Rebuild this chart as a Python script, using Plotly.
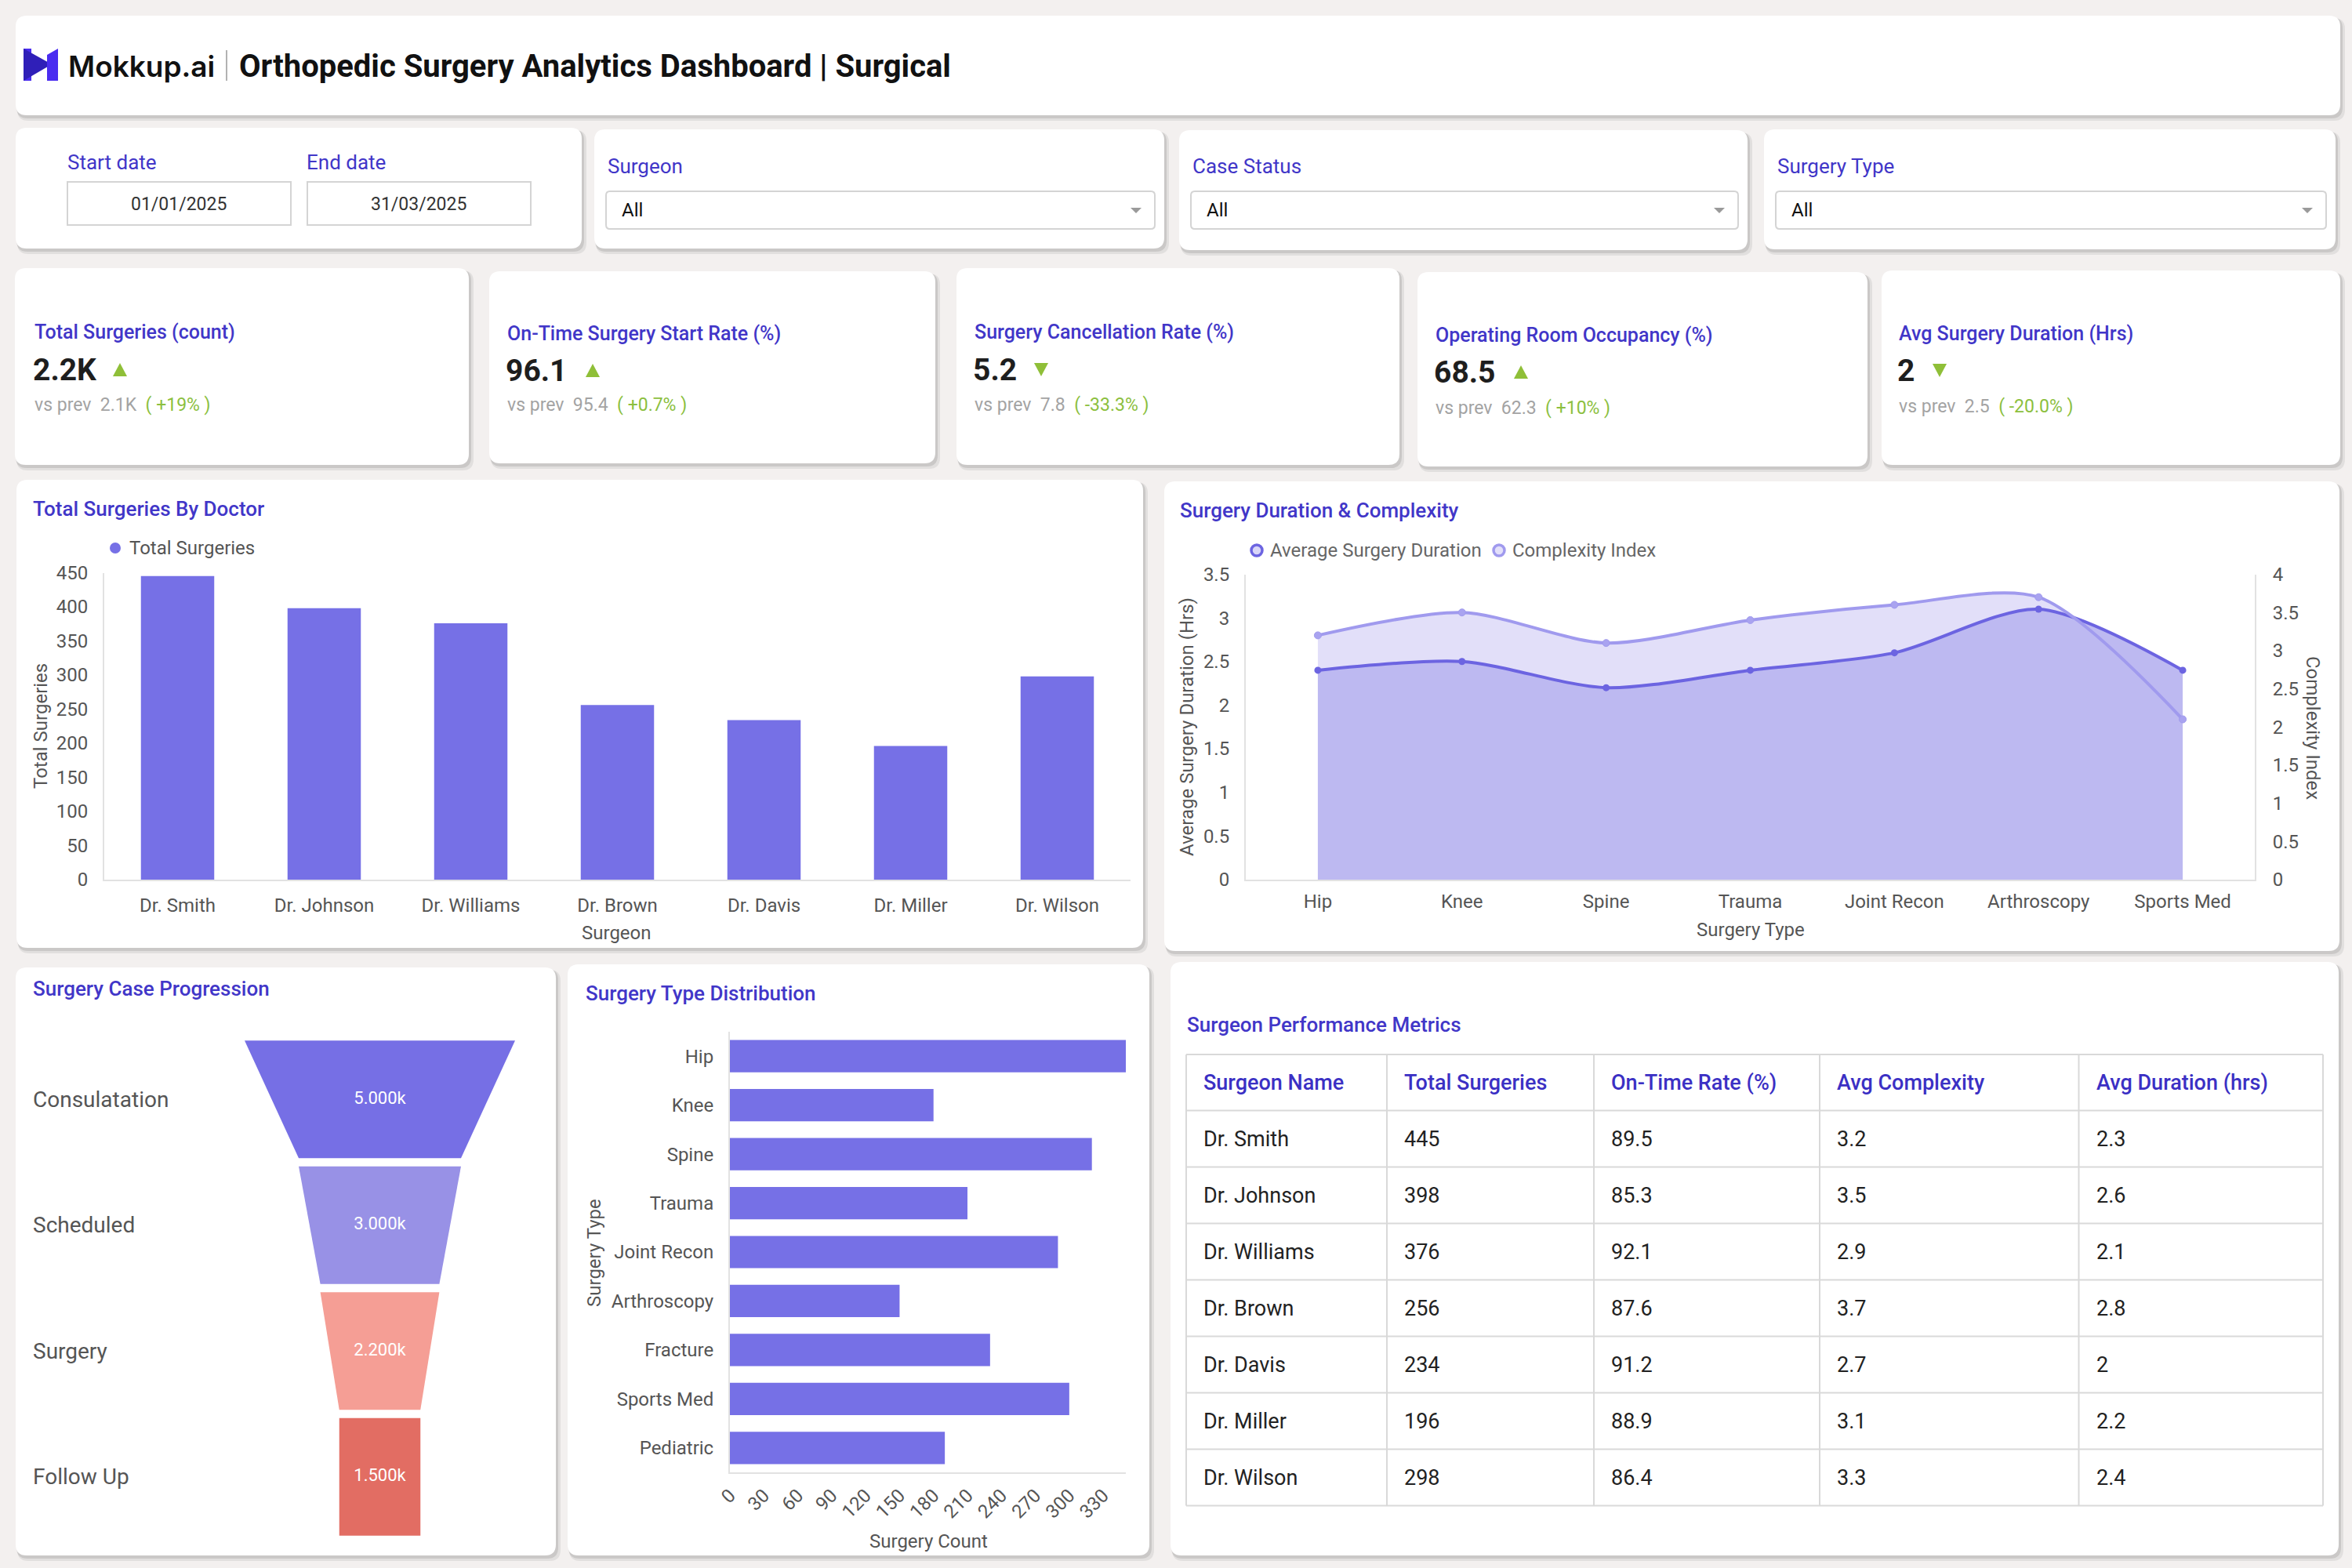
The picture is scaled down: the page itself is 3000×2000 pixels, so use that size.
import plotly.graph_objects as go

W, H = 3000, 2000
def fx(x): return x / W
def fy(y): return 1 - y / H

# ---------------- data ----------------
doctors = ["Dr. Smith", "Dr. Johnson", "Dr. Williams", "Dr. Brown", "Dr. Davis", "Dr. Miller", "Dr. Wilson"]
total_surgeries = [445, 398, 376, 256, 234, 196, 298]
on_time_rate = [89.5, 85.3, 92.1, 87.6, 91.2, 88.9, 86.4]
avg_complexity = [3.2, 3.5, 2.9, 3.7, 2.7, 3.1, 3.3]
avg_duration = [2.3, 2.6, 2.1, 2.8, 2, 2.2, 2.4]

dur_types = ["Hip", "Knee", "Spine", "Trauma", "Joint Recon", "Arthroscopy", "Sports Med"]
dur_hours = [2.4, 2.5, 2.2, 2.4, 2.6, 3.1, 2.4]
complexity_index = [3.2, 3.5, 3.1, 3.4, 3.6, 3.7, 2.1]

stages = ["Consulatation", "Scheduled", "Surgery", "Follow Up"]
stage_counts = [5000, 3000, 2200, 1500]
stage_colors = ["#766fe5", "#9891e6", "#f59e95", "#e26d63"]

dist_types = ["Hip", "Knee", "Spine", "Trauma", "Joint Recon", "Arthroscopy", "Fracture", "Sports Med", "Pediatric"]
dist_counts = [350, 180, 320, 210, 290, 150, 230, 300, 190]

kpi_titles = ["Total Surgeries (count)", "On-Time Surgery Start Rate (%)", "Surgery Cancellation Rate (%)",
              "Operating Room Occupancy (%)", "Avg Surgery Duration (Hrs)"]
kpi_values = ["2.2K", "96.1", "5.2", "68.5", "2"]
kpi_dirs = ["up", "up", "down", "up", "down"]
kpi_prev = ["2.1K", "95.4", "7.8", "62.3", "2.5"]
kpi_change = ["+19%", "+0.7%", "-33.3%", "+10%", "-20.0%"]

filter_labels = ["Surgeon", "Case Status", "Surgery Type"]
filter_values = ["All", "All", "All"]
start_date = "01/01/2025"
end_date = "31/03/2025"

table_headers = ["Surgeon Name", "Total Surgeries", "On-Time Rate (%)", "Avg Complexity", "Avg Duration (hrs)"]

# ---------------- style ----------------
BG = "#f3f0ef"
INDIGO = "#4136c8"
BAR = "#7670e6"
TXT = "#555555"
GREEN = "#8cbf3f"
FONT = "Roboto"

shapes = []
annotations = []

def rr_path(x0, y0, x1, y1, r):
    X, Y = fx, fy
    return (f"M{X(x0+r)},{Y(y0)} L{X(x1-r)},{Y(y0)} Q{X(x1)},{Y(y0)} {X(x1)},{Y(y0+r)} "
            f"L{X(x1)},{Y(y1-r)} Q{X(x1)},{Y(y1)} {X(x1-r)},{Y(y1)} L{X(x0+r)},{Y(y1)} "
            f"Q{X(x0)},{Y(y1)} {X(x0)},{Y(y1-r)} L{X(x0)},{Y(y0+r)} Q{X(x0)},{Y(y0)} {X(x0+r)},{Y(y0)} Z")

def card(x0, y0, x1, y1, r=14):
    shapes.append(dict(type="path", path=rr_path(x0 + 2, y0 + 3, x1 + 6, y1 + 7, r), fillcolor="rgba(0,0,0,0.07)",
                       line_width=0, xref="paper", yref="paper", layer="below"))
    shapes.append(dict(type="path", path=rr_path(x0 + 1, y0 + 2, x1 + 3, y1 + 4, r), fillcolor="rgba(0,0,0,0.10)",
                       line_width=0, xref="paper", yref="paper", layer="below"))
    shapes.append(dict(type="path", path=rr_path(x0, y0, x1, y1, r), fillcolor="white",
                       line_width=0, xref="paper", yref="paper", layer="below"))

def poly(points, color, layer="above", line=None):
    p = "M" + " L".join(f"{fx(a)},{fy(b)}" for a, b in points) + " Z"
    d = dict(type="path", path=p, fillcolor=color, xref="paper", yref="paper", layer=layer)
    d["line"] = line if line else dict(width=0)
    shapes.append(d)

def box(x0, y0, x1, y1, color="#d4d4d4", width=2, fill="white", layer="above"):
    shapes.append(dict(type="rect", x0=fx(x0), x1=fx(x1), y0=fy(y0), y1=fy(y1), xref="paper", yref="paper",
                       line=dict(color=color, width=width), fillcolor=fill, layer=layer))

def hline(x0, x1, y, color="#d9d9d9", width=2):
    shapes.append(dict(type="line", x0=fx(x0), x1=fx(x1), y0=fy(y), y1=fy(y), xref="paper", yref="paper",
                       line=dict(color=color, width=width)))

def vline(x, y0, y1, color="#d9d9d9", width=2):
    shapes.append(dict(type="line", x0=fx(x), x1=fx(x), y0=fy(y0), y1=fy(y1), xref="paper", yref="paper",
                       line=dict(color=color, width=width)))

def txt(x, y, s, size, color, xanchor="left", yanchor="middle", weight="normal", angle=0, family=FONT):
    annotations.append(dict(x=fx(x), y=fy(y), xref="paper", yref="paper", text=s, showarrow=False,
                            xanchor=xanchor, yanchor=yanchor, textangle=angle,
                            font=dict(family=family, size=size, color=color, weight=weight)))

def circle(cx, cy, r, fill, line_color=None, lw=0):
    shapes.append(dict(type="circle", x0=fx(cx - r), x1=fx(cx + r), y0=fy(cy + r), y1=fy(cy - r),
                       xref="paper", yref="paper", fillcolor=fill,
                       line=dict(color=line_color or fill, width=lw)))

# ---------------- header ----------------
card(20, 20, 2985, 147)
poly([(30, 62), (40, 62), (40, 103), (30, 103)], "#4a2cf0")
poly([(30, 62), (66, 82), (30, 103)], "#2f1fb8")
poly([(60, 70), (74, 62), (74, 103), (60, 103)], "#4a2cf0")
txt(85, 84, "Mokkup.ai", 37, "#111111", weight=600, family="Inter")
vline(289, 64, 103, color="#999999", width=1.5)
txt(303, 84, "Orthopedic Surgery Analytics Dashboard | Surgical", 40, "#111111", weight="bold")

# ---------------- filters ----------------
card(20, 163, 742, 317)
txt(84, 207, "Start date", 26, INDIGO)
txt(389, 207, "End date", 26, INDIGO)
box(86, 232, 371, 287)
box(392, 232, 677, 287)
txt(228, 260, start_date, 23, "#333333", xanchor="center")
txt(534, 260, end_date, 23, "#333333", xanchor="center")

filter_cards = [(758, 165, 1485, 317), (1504, 166, 2229, 319), (2250, 165, 2979, 318)]
for (x0, y0, x1, y1), lab, val in zip(filter_cards, filter_labels, filter_values):
    card(x0, y0, x1, y1)
    lx = x0 + 15
    txt(lx, 212, lab, 26, INDIGO)
    shapes.append(dict(type="path", path=rr_path(lx, 244, x1 - 12, 292, 5), fillcolor="white",
                       line=dict(color="#d4d4d4", width=2), xref="paper", yref="paper"))
    txt(lx + 18, 268, val, 24, "#111111")
    ax = x1 - 36
    poly([(ax - 7, 265), (ax + 7, 265), (ax, 272)], "#9a9a9a")

# ---------------- KPI cards ----------------
kpi_boxes = [(19, 342, 598, 593), (624, 346, 1193, 591), (1220, 342, 1785, 593),
             (1808, 347, 2382, 595), (2400, 345, 2985, 593)]
kpi_tx = [42, 645, 1241, 1829, 2420]
kpi_ty = [423, 425, 423, 428, 426]
kpi_vy = [472, 473, 472, 475, 473]
kpi_sy = [517, 517, 517, 520, 518]
kpi_tri = [153, 756, 1328, 1940, 2474]
for i in range(5):
    card(*kpi_boxes[i])
    txt(kpi_tx[i], kpi_ty[i], kpi_titles[i], 25, INDIGO, weight=500)
    txt(kpi_tx[i] - 2, kpi_vy[i], kpi_values[i], 39, "#1e1e1e", weight="bold")
    c, yv = kpi_tri[i], kpi_vy[i]
    if kpi_dirs[i] == "up":
        poly([(c - 9, yv + 8), (c + 9, yv + 8), (c, yv - 9)], "#8fbf38")
    else:
        poly([(c - 9, yv - 9), (c + 9, yv - 9), (c, yv + 8)], "#8fbf38")
    s = (f"vs prev&nbsp;&nbsp;{kpi_prev[i]}&nbsp;&nbsp;<span style='color:{GREEN}'>(&nbsp;{kpi_change[i]}&nbsp;)</span>")
    txt(kpi_tx[i], kpi_sy[i], s, 23, "#a3a3a3")

# ---------------- chart cards ----------------
card(21, 612, 1458, 1209)
card(1485, 614, 2984, 1213)
card(20, 1234, 709, 1984)
card(724, 1230, 1466, 1984)
card(1493, 1227, 2983, 1984)

txt(40, 649, "Total Surgeries By Doctor", 26, INDIGO, weight=500)
txt(1503, 651, "Surgery Duration & Complexity", 26, INDIGO, weight=500)
txt(40, 1261, "Surgery Case Progression", 26, INDIGO, weight=500)
txt(745, 1267, "Surgery Type Distribution", 26, INDIGO, weight=500)
txt(1512, 1307, "Surgeon Performance Metrics", 26, INDIGO, weight=500)

# legends (manual)
circle(147, 699, 7, BAR)
txt(163, 699, "Total Surgeries", 24, TXT)
circle(1603, 702, 7, "#d9d6f8", "#6c64e1", 3.5)
txt(1618, 702, "Average Surgery Duration", 24, "#666666")
circle(1912, 702, 7, "#e3e0fa", "#a09aee", 3.5)
txt(1927, 702, "Complexity Index", 24, "#666666")

# axis titles
txt(52, 926, "Total Surgeries", 24, TXT, xanchor="center", angle=-90)
txt(787, 1190, "Surgeon", 24, TXT, xanchor="center")
txt(1514, 927, "Average Surgery Duration (Hrs)", 24, TXT, xanchor="center", angle=-90)
txt(2950, 928, "Complexity Index", 24, TXT, xanchor="center", angle=90)
txt(2233, 1186, "Surgery Type", 24, TXT, xanchor="center")
txt(758, 1598, "Surgery Type", 24, TXT, xanchor="center", angle=-90)
txt(1184, 1966, "Surgery Count", 24, TXT, xanchor="center")

# ---------------- table (drawn cell by cell) ----------------
col_w = [256, 264, 288, 330.5, 311.5]
tx0, ty0, head_h, row_h = 1513, 1345, 71.5, 72
col_x = [tx0]
for w in col_w:
    col_x.append(col_x[-1] + w)
n_rows = len(doctors)
ty1 = ty0 + head_h + row_h * n_rows
row_y = [ty0, ty0 + head_h] + [ty0 + head_h + row_h * (k + 1) for k in range(n_rows)]
for y in row_y:
    hline(tx0, col_x[-1], y)
for x in col_x:
    vline(x, ty0, ty1)
cols = [doctors, total_surgeries, on_time_rate, avg_complexity, avg_duration]
for j, h in enumerate(table_headers):
    txt(col_x[j] + 20, ty0 + head_h / 2, h, 27, "#3b30c4", weight=500)
    for k, v in enumerate(cols[j]):
        txt(col_x[j] + 20, ty0 + head_h + row_h * k + row_h / 2, str(v), 27, "#222222")

fig = go.Figure()

# ---------- chart 1: bars ----------
fig.add_trace(go.Bar(x=doctors, y=total_surgeries, marker=dict(color=BAR, line=dict(width=0)), width=0.5,
                     xaxis="x", yaxis="y", showlegend=False, hoverinfo="skip"))

# ---------- chart 2: area lines ----------
fig.add_trace(go.Scatter(x=dur_types, y=complexity_index, mode="lines", line=dict(width=0, shape="spline", smoothing=0.8),
                         fill="tozeroy", fillcolor="#e2dff9", xaxis="x2", yaxis="y2", showlegend=False, hoverinfo="skip"))
fig.add_trace(go.Scatter(x=dur_types, y=dur_hours, mode="lines+markers",
                         line=dict(width=4, color="#6c64e1", shape="spline", smoothing=0.8),
                         marker=dict(size=9, color="#6c64e1"),
                         fill="tozeroy", fillcolor="#bdb9f1", xaxis="x2", yaxis="y3", showlegend=False, hoverinfo="skip"))
fig.add_trace(go.Scatter(x=dur_types, y=complexity_index, mode="lines+markers",
                         line=dict(width=4, color="#a09aee", shape="spline", smoothing=0.8),
                         marker=dict(size=9, color="#a9a3f0", line=dict(color="#a09aee", width=1)),
                         xaxis="x2", yaxis="y4", showlegend=False, hoverinfo="skip"))

# ---------- chart 3: funnel ----------
g = 0.032
n = len(stage_counts)
for i, v in enumerate(stage_counts):
    vn = stage_counts[i + 1] if i < n - 1 else v
    xs = [-v / 2, v / 2, vn / 2, -vn / 2, -v / 2]
    ys = [i + g, i + g, i + 1 - g, i + 1 - g, i + g]
    fig.add_trace(go.Scatter(x=xs, y=ys, mode="lines", fill="toself", fillcolor=stage_colors[i],
                             line=dict(width=0), xaxis="x3", yaxis="y5", showlegend=False, hoverinfo="skip"))
fig.add_trace(go.Scatter(x=[0] * n, y=[i + 0.5 for i in range(n)], mode="text",
                         text=[f"{v / 1000:.3f}k" for v in stage_counts],
                         textfont=dict(family=FONT, size=22, color="white"),
                         xaxis="x3", yaxis="y5", showlegend=False, hoverinfo="skip"))
for i, s in enumerate(stages):
    annotations.append(dict(x=fx(40), xref="paper", y=i + 0.5, yref="y5", text=s, showarrow=False,
                            xanchor="left", yanchor="middle", font=dict(family=FONT, size=28, color=TXT)))

# ---------- chart 4: horizontal bars ----------
fig.add_trace(go.Bar(y=dist_types, x=dist_counts, orientation="h", marker=dict(color=BAR, line=dict(width=0)),
                     width=0.66, xaxis="x4", yaxis="y6", showlegend=False, hoverinfo="skip"))

tickf = dict(family=FONT, size=24, color=TXT)
axline = dict(showline=True, linecolor="#e2e2e2", linewidth=2, showgrid=False, zeroline=False, ticks="",
              automargin=False)

fig.update_layout(
    width=W, height=H, margin=dict(l=0, r=0, t=0, b=0, pad=0, autoexpand=False),
    paper_bgcolor=BG, plot_bgcolor="rgba(0,0,0,0)", showlegend=False,
    font=dict(family=FONT), hovermode=False,
    shapes=shapes, annotations=annotations,
    xaxis=dict(domain=[fx(133), fx(1442)], anchor="y", tickfont=tickf, ticklabelstandoff=10, **axline),
    yaxis=dict(domain=[fy(1122), fy(730.5)], anchor="x", range=[0, 450], dtick=50, tickfont=tickf,
               ticklabelstandoff=14, **axline),
    xaxis2=dict(domain=[fx(1589), fx(2876)], anchor="y2", range=[-0.5, 6.5], tickfont=tickf,
                ticklabelstandoff=5, **axline),
    yaxis2=dict(domain=[fy(1122), fy(732.5)], anchor="x2", side="right", range=[0, 4], dtick=0.5,
                tickfont=tickf, ticklabelstandoff=16, **axline),
    yaxis3=dict(anchor="x2", overlaying="y2", side="left", range=[0, 3.5], dtick=0.5,
                tickfont=tickf, ticklabelstandoff=14, **axline),
    yaxis4=dict(anchor="x2", overlaying="y2", range=[0, 4], visible=False),
    xaxis3=dict(domain=[fx(312), fx(657)], anchor="y5", range=[-2500, 2500], visible=False),
    yaxis5=dict(domain=[fy(1964), fy(1322)], anchor="x3", range=[4, 0], visible=False),
    xaxis4=dict(domain=[fx(931), fx(1436)], anchor="y6", range=[0, 350], dtick=30, tickangle=-45,
                tickfont=tickf, ticklabelstandoff=4, **axline),
    yaxis6=dict(domain=[fy(1878), fy(1316)], anchor="x4", range=[8.5, -0.5], tickfont=tickf,
                ticklabelstandoff=14, **axline),
)

fig.write_html("out.html", config=dict(responsive=False, displayModeBar=False))
